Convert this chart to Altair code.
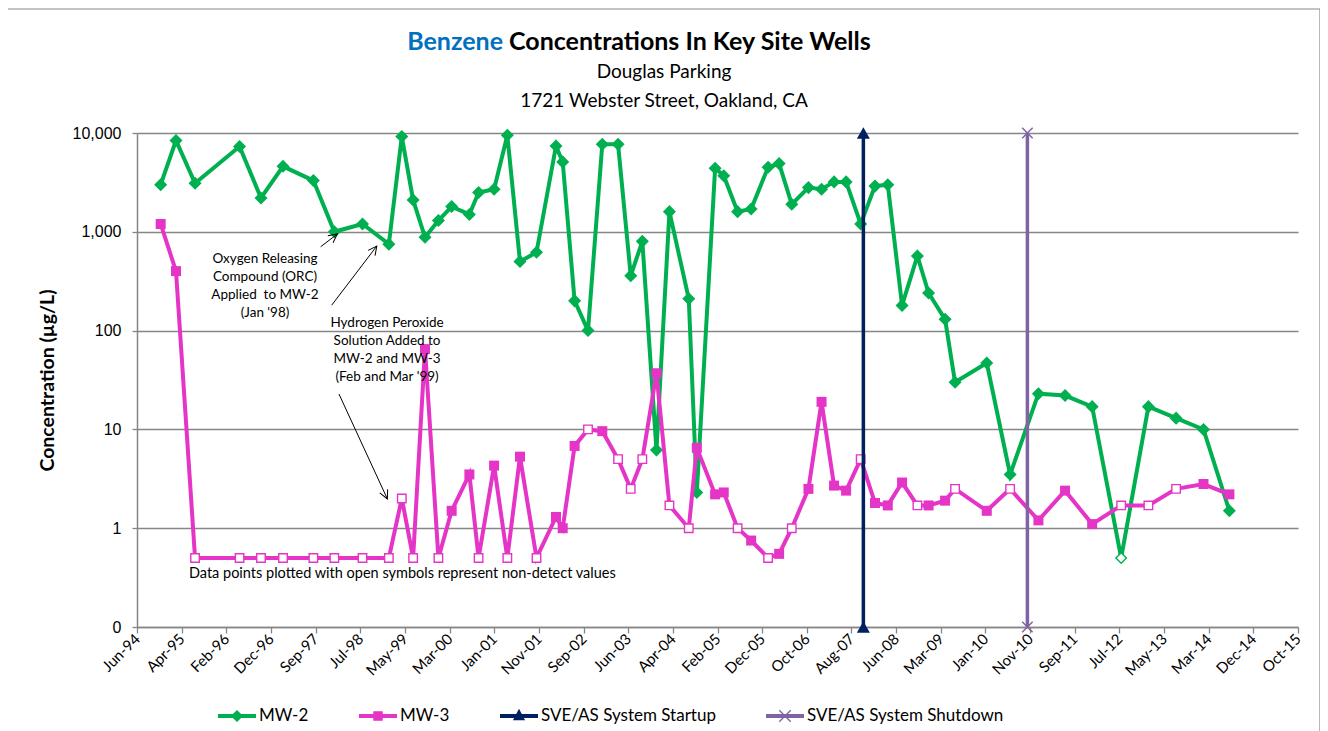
import altair as alt
import pandas as pd

# ---------------- data ----------------
SAMPLE_DATES = [
    "1994-11-22", "1995-03-05", "1995-07-11", "1996-05-05", "1996-09-26", "1997-02-21",
    "1997-09-13", "1998-02-01", "1998-08-09", "1999-02-02", "1999-04-30", "1999-07-15",
    "1999-10-03", "2000-01-01", "2000-03-30", "2000-07-27", "2000-09-27", "2001-01-09",
    "2001-04-08", "2001-07-02", "2001-10-21", "2002-03-01", "2002-04-15", "2002-07-04",
    "2002-10-02", "2003-01-06", "2003-04-22", "2003-07-16", "2003-10-02", "2004-01-05",
    "2004-04-01", "2004-08-09", "2004-10-02", "2005-02-02", "2005-04-01", "2005-07-03",
    "2005-10-02", "2006-01-24", "2006-04-08", "2006-07-02", "2006-10-22", "2007-01-18",
    "2007-04-12", "2007-07-02", "2007-10-08", "2008-01-12", "2008-04-07", "2008-07-12",
    "2008-10-23", "2009-01-06", "2009-04-27", "2009-07-03", "2010-02-01", "2010-07-08",
    "2011-01-14", "2011-07-12", "2012-01-10", "2012-07-23", "2013-01-22", "2013-07-27",
    "2014-01-27", "2014-07-20",
]
MW2_VALUES = [
    3000, 8400, 3100, 7300, 2200, 4600, 3300, 1000, 1200, 750, 9200, 2100,
    880, 1300, 1800, 1500, 2500, 2700, 9500, 500, 620, 7400, 5100, 200,
    100, 7700, 7700, 360, 800, 6.2, 1600, 210, 2.3, 4400, 3700, 1600,
    1700, 4500, 4900, 1900, 2800, 2700, 3200, 3200, 1200, 2900, 3000, 180,
    570, 240, 130, 30, 47, 3.5, 23, 22, 17, 0.5, 17, 13, 10, 1.5,
]
MW2_ND = [0] * 57 + [1] + [0] * 4
MW3_VALUES = [
    1200, 400, 0.5, 0.5, 0.5, 0.5, 0.5, 0.5, 0.5, 0.5, 2, 0.5,
    65, 0.5, 1.5, 3.5, 0.5, 4.3, 0.5, 5.3, 0.5, 1.3, 1.0, 6.8,
    10, 9.6, 5.0, 2.5, 5.0, 37, 1.7, 1.0, 6.5, 2.2, 2.3, 1.0,
    0.75, 0.5, 0.55, 1.0, 2.5, 19, 2.7, 2.4, 5.0, 1.8, 1.7, 2.9,
    1.7, 1.7, 1.9, 2.5, 1.5, 2.5, 1.2, 2.4, 1.1, 1.7, 1.7, 2.5, 2.8, 2.2,
]
MW3_ND = [
    0, 0, 1, 1, 1, 1, 1, 1, 1, 1, 1, 1,
    0, 1, 0, 0, 1, 0, 1, 0, 1, 0, 0, 0,
    1, 0, 1, 1, 1, 0, 1, 1, 0, 0, 0, 1,
    0, 1, 0, 1, 0, 0, 0, 0, 1, 0, 0, 0,
    1, 0, 0, 1, 0, 1, 0, 0, 0, 1, 1, 1, 0, 0,
]

SERIES = ["MW-2", "MW-3", "SVE/AS System Startup", "SVE/AS System Shutdown"]
COLORS = ["#00B050", "#E535C6", "#002060", "#8064A2"]

EVENT_NAMES = ["SVE/AS System Startup", "SVE/AS System Shutdown"]
EVENT_DATES = ["2007-10-26", "2010-11-01"]
EVENT_LOW, EVENT_HIGH = 0.1, 10000

Y_TICKS = [0.1, 1, 10, 100, 1000, 10000]
X_TICK_DATES = [
    "1994-06-16", "1995-04-12", "1996-02-06", "1996-12-02", "1997-09-28", "1998-07-25",
    "1999-05-21", "2000-03-16", "2001-01-10", "2001-11-06", "2002-09-02", "2003-06-29",
    "2004-04-24", "2005-02-18", "2005-12-15", "2006-10-11", "2007-08-07", "2008-06-02",
    "2009-03-29", "2010-01-23", "2010-11-19", "2011-09-15", "2012-07-11", "2013-05-07",
    "2014-03-03", "2014-12-28", "2015-10-24",
]

NOTE_TEXTS = [
    "Oxygen Releasing\nCompound (ORC)\nApplied\u00a0 to MW-2\n(Jan '98)",
    "Hydrogen Peroxide\nSolution Added to\nMW-2 and MW-3\n(Feb and Mar '99)",
]
NOTE_DATES = ["1996-10-23", "1999-01-21"]
NOTE_VALUES = [625, 142]

FOOTNOTE = "Data points plotted with open symbols represent non-detect values"
FOOTNOTE_DATE = "1995-05-31"
FOOTNOTE_VALUE = 0.344

ARROW_FROM_DATES = ["1997-11-01", "1998-01-14", "1998-03-04"]
ARROW_FROM_VALUES = [706, 181, 22.8]
ARROW_TO_DATES = ["1998-02-21", "1998-11-13", "1999-01-23"]
ARROW_TO_VALUES = [950, 717, 1.98]
ARROW_ANGLES = [53, 37, 155]

TITLE_MAIN_A = "Benzene"
TITLE_MAIN_B = "Concentrations In Key Site Wells"
SUBTITLE_1 = "Douglas Parking"
SUBTITLE_2 = "1721 Webster Street, Oakland, CA"
Y_TITLE = "Concentration (µg/L)"

# ---------------- tables ----------------
n = len(SAMPLE_DATES)
wells = pd.DataFrame({
    "date": SAMPLE_DATES * 2,
    "value": MW2_VALUES + MW3_VALUES,
    "series": ["MW-2"] * n + ["MW-3"] * n,
    "nd": MW2_ND + MW3_ND,
})
events = pd.DataFrame({
    "date": [d for d in EVENT_DATES for _ in (0, 1)],
    "value": [EVENT_LOW, EVENT_HIGH] * len(EVENT_DATES),
    "series": [s for s in EVENT_NAMES for _ in (0, 1)],
})
notes = pd.DataFrame({"date": NOTE_DATES, "value": NOTE_VALUES, "text": NOTE_TEXTS})
foot = pd.DataFrame({"date": [FOOTNOTE_DATE], "value": [FOOTNOTE_VALUE], "text": [FOOTNOTE]})
arrows = pd.DataFrame({
    "d1": ARROW_FROM_DATES, "v1": ARROW_FROM_VALUES,
    "d2": ARROW_TO_DATES, "v2": ARROW_TO_VALUES, "ang": ARROW_ANGLES,
})

def ms(d):
    return int(pd.Timestamp(d).value // 10**6)

x_ticks_ms = [ms(d) for d in X_TICK_DATES]
x_scale = alt.Scale(domain=[x_ticks_ms[0], x_ticks_ms[-1]])
y_scale = alt.Scale(type="log", domain=[0.1, 10000], nice=False)
c_scale = alt.Scale(domain=SERIES, range=COLORS)

FONT = "Lato"
GRAY = "#868686"

x_axis = alt.Axis(
    values=x_ticks_ms, labelExpr="utcFormat(datum.value, '%b-%y')", labelAngle=315,
    labelAlign="right", labelBaseline="middle", labelFont=FONT, labelFontSize=15,
    labelColor="black", labelPadding=3, tickSize=6, tickColor=GRAY, tickWidth=1.3,
    domainColor=GRAY, domainWidth=1.5, grid=False, title=None, labelOverlap=False,
)
y_axis = alt.Axis(
    values=Y_TICKS, labelExpr="datum.value < 0.5 ? '0' : format(datum.value, ',')",
    labelFont="Liberation Sans", labelFontSize=16, labelColor="black", labelPadding=11,
    tickSize=5, tickColor=GRAY, tickWidth=1.3, domainColor=GRAY, domainWidth=1.5,
    grid=True, gridColor=GRAY, gridWidth=1.3, title=Y_TITLE, titleFont=FONT,
    titleFontSize=19.5, titleFontWeight="bold", titleColor="black", titleX=-90, titleY=247,
    titleAngle=270, titleAlign="center", titleBaseline="middle", labelOverlap=False,
)

LINE = "M-1,-0.1L1,-0.1L1,0.1L-1,0.1Z"
LEGEND_SHAPES = [
    LINE + "M0,-0.32L0.32,0L0,0.32L-0.32,0Z",
    LINE + "M-0.25,-0.25L0.25,-0.25L0.25,0.25L-0.25,0.25Z",
    LINE + "M0,-0.38L0.32,0.22L-0.32,0.22Z",
    LINE + "M-0.275,-0.325L0.325,0.275L0.275,0.325L-0.325,-0.275Z"
           "M0.325,-0.275L-0.275,0.325L-0.325,0.275L0.275,-0.325Z",
]
legend_props = dict(
    orient="none", legendX=81, legendY=564, direction="horizontal", title=None,
    labelFont=FONT, labelFontSize=17, labelColor="black", labelLimit=0, symbolSize=1444,
    symbolStrokeWidth=0, columnPadding=50, labelOffset=3, symbolOpacity=1,
    symbolFillColor="black",
)
LEGEND = alt.Legend(**legend_props)

def X(field="date"):
    return alt.X(f"{field}:T", scale=x_scale, axis=x_axis, title=None)

def Y(field="value"):
    return alt.Y(f"{field}:Q", scale=y_scale, axis=y_axis, title=Y_TITLE)

def C():
    return alt.Color("series:N", scale=c_scale, legend=LEGEND, title=None)

# ---------------- layers ----------------
def well_layers(name, color, shape, size, open_size):
    base = alt.Chart(wells).transform_filter(alt.datum.series == name)
    line = base.mark_line(strokeWidth=4).encode(x=X(), y=Y(), color=C())
    filled = base.transform_filter(alt.datum.nd == 0).mark_point(
        shape=shape, size=size, filled=True, color=color, opacity=1
    ).encode(x=X(), y=Y())
    opened = base.transform_filter(alt.datum.nd == 1).mark_point(
        shape=shape, size=open_size, filled=False, fill="white", fillOpacity=1,
        stroke=color, strokeWidth=1.4, opacity=1
    ).encode(x=X(), y=Y())
    return [line, filled, opened]

mw2 = well_layers("MW-2", COLORS[0], "diamond", 170, 110)
mw3 = well_layers("MW-3", COLORS[1], "square", 100, 72)

ev_lines = alt.Chart(events).mark_line(strokeWidth=3.5).encode(
    x=X(), y=Y(), color=C(), detail="series:N",
)
ev_start = alt.Chart(events).transform_filter(
    alt.datum.series == EVENT_NAMES[0]
).mark_point(shape="triangle-up", size=170, filled=True, color=COLORS[2], opacity=1).encode(
    x=X(), y=Y()
)
ev_stop = alt.Chart(events).transform_filter(
    alt.datum.series == EVENT_NAMES[1]
).mark_point(shape="M-1,-1L1,1M-1,1L1,-1", size=110, filled=False, color=COLORS[3],
             strokeWidth=1.5, opacity=1).encode(x=X(), y=Y())

arrow_lines = alt.Chart(arrows).mark_rule(color="black", strokeWidth=1).encode(
    x=X("d1"), x2="d2:T", y=Y("v1"), y2="v2:Q"
)
arrow_heads = alt.Chart(arrows).mark_point(
    shape="M-0.5,1L0,0L0.5,1", size=300, filled=False, color="black", strokeWidth=1, opacity=1
).encode(x=X("d2"), y=Y("v2"), angle=alt.Angle("ang:Q", scale=None))

note_text = alt.Chart(notes).mark_text(
    align="center", baseline="top", lineBreak="\n", lineHeight=18, font=FONT,
    fontSize=13.5, color="black"
).encode(x=X(), y=Y(), text="text:N")
foot_text = alt.Chart(foot).mark_text(
    align="left", baseline="middle", font=FONT, fontSize=14.5, color="black"
).encode(x=X(), y=Y(), text="text:N")

def label(txt, x, y, size, color="black", weight="normal", align="center"):
    return alt.Chart(pd.DataFrame({"t": [txt]})).mark_text(
        align=align, baseline="middle", font=FONT, fontSize=size, fontWeight=weight,
        color=color
    ).encode(x=alt.value(x), y=alt.value(y), text="t:N")

titles = [
    label(TITLE_MAIN_A, 366, -91, 25, "#0070C0", "bold", "right"),
    label(TITLE_MAIN_B, 372, -91, 25, "black", "bold", "left"),
    label(SUBTITLE_1, 527, -61, 19),
    label(SUBTITLE_2, 527, -32, 19),
]

legend_layer = alt.Chart(events).transform_filter("false").mark_point(
    filled=True, size=1444, opacity=1
).encode(
    x=X(), y=Y(), color=C(),
    shape=alt.Shape("series:N", scale=alt.Scale(domain=SERIES, range=LEGEND_SHAPES),
                    legend=LEGEND, title=None),
)

frame = alt.Chart(pd.DataFrame({"t": [0]})).mark_rect(
    fill="white", fillOpacity=0, stroke="#8a8a8a", strokeWidth=1.2
).encode(x=alt.value(-134), x2=alt.value(1183), y=alt.value(-124), y2=alt.value(640))

chart = alt.layer(
    *mw2, *mw3, ev_lines, ev_start, ev_stop,
    arrow_lines, arrow_heads, note_text, foot_text, *titles, legend_layer, frame,
).properties(
    width=1161, height=494,
    autosize=alt.AutoSizeParams(type="none"),
    padding={"left": 129, "top": 125, "right": 22, "bottom": 104},
).configure(background="white").configure_view(stroke=None)

chart.save("out.html", embed_options={"renderer": "svg", "actions": False})
